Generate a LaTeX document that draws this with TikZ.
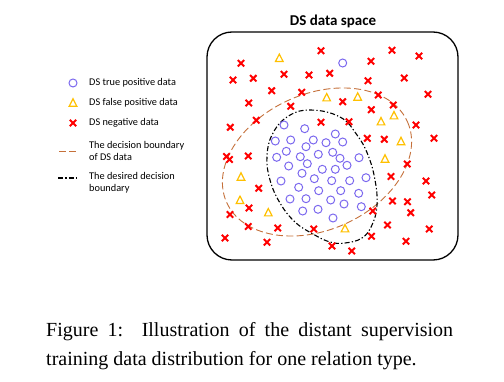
\documentclass[tikz,border=0pt]{standalone}
\usepackage{fontspec}
\setmainfont{Liberation Serif}
\newfontfamily\calibri{Carlito}
\definecolor{tpblue}{HTML}{7B68EE}
\definecolor{fpgold}{HTML}{FFC000}
\definecolor{negred}{HTML}{FF0000}
\definecolor{dsorange}{HTML}{C5703A}
% one marker per kind of data point
\newcommand{\TPMark}[2]{\draw[truepos] (#1,#2) circle (4);}
\newcommand{\FPMark}[2]{\draw[falsepos] (#1,#2) ++(0,-4.2) -- ++(3.8,7.4) -- ++(-7.6,0) -- cycle;}
\newcommand{\NegMark}[2]{\draw[negative] (#1-3.2,#2-3.2) -- (#1+3.2,#2+3.2) (#1-3.2,#2+3.2) -- (#1+3.2,#2-3.2);}

\begin{document}
\begin{tikzpicture}[x=1pt, y=-1pt,
    truepos/.style={draw=tpblue, line width=1pt},
    falsepos/.style={draw=fpgold, line width=1.2pt, line join=miter},
    negative/.style={draw=negred, line width=2pt},
    dsbound/.style={dsorange, line width=0.9pt, dash pattern=on 7pt off 3.3pt},
    wantbound/.style={black, line width=1.1pt, dash pattern=on 5pt off 2.2pt on 1.3pt off 2.2pt},
    legendtext/.style={font=\calibri\fontsize{10.3}{12}\selectfont, anchor=west, align=left, inner sep=0pt},
  ]
\useasboundingbox (0,0) rectangle (504,382);

% --- The data space ------------------------------------------------------------
\draw[line width=1.3pt, rounded corners=25pt] (207,32) rectangle (458,260);
\node[font=\calibri\bfseries\fontsize{15}{18}\selectfont] (title) at (333,21) {DS data space};

% --- The two boundaries (drawn first, the points lie on top) ---------------------
\draw[dsbound, rotate around={24:(317,162)}] (317,162) ellipse (99 and 68);
\draw[wantbound] plot[smooth cycle, tension=0.7] coordinates {
  (310,110) (340,117) (357,135) (368,155) (375,180) (377,205) (372,225) (362,238)
  (345,243) (330,242) (313,234) (295,222) (280,203) (270,180) (267,157) (272,135) (287,117)};

% --- Negative data --------------------------------------------------------------
\foreach \x/\y in {321/50.7, 241/63.3, 233/80, 253.3/78.3, 284/74.3, 309/75, 329.7/73.3,
    271.7/90.7, 301.7/92.3, 248.7/103, 290.7/106.3, 256.3/120.3, 230.3/127.3, 321/122.3,
    392/50.3, 371/61.3, 419/56, 368/80.7, 404.3/78, 428/94.3, 378.3/95, 342.7/101.7,
    393.3/105, 371.3/109.7, 416/125, 349/121.7, 367.3/138.3, 384.3/139.3, 434/138.3,
    226.5/156.5, 229.5/159.5, 248.3/156, 407.3/164, 391/176.5, 426/181, 258.7/188.3,
    431.7/195, 249/208, 392.5/201, 407.5/201.7, 230/214.5, 372.7/211, 410.7/212.7,
    248.3/226.5, 277.7/228, 313.7/229, 387.5/225, 429.3/229, 225/238, 371.5/236.3,
    267/242.3, 406/241.2, 332/246, 351.7/251}
  {\NegMark{\x}{\y}}

% --- False positives --------------------------------------------------------------
\foreach \x/\y in {279.3/58.3, 326.7/97.7, 357.7/97, 381/121.7, 394/115.7, 401/141.5,
    385/159, 241/177, 240/200.3, 268.3/212.7, 345/228.7}
  {\FPMark{\x}{\y}}

% --- True positives ----------------------------------------------------------------
\foreach \x/\y in {342.7/63, 284/125, 304.7/128.7, 335.3/134, 275.3/141, 290.7/140,
    313.3/140, 326/142.7, 342.7/142, 306/146.7, 286.3/151.3, 332.7/152.3, 276.7/157.3,
    300.3/156.7, 318.3/154.3, 340/158.3, 359/157.7, 307.3/163.7, 347/165.3, 288.7/166,
    322.3/169.3, 335.3/169.3, 302/173.3, 314.3/178.7, 331.7/180.7, 349.7/180.7,
    366/177.7, 281/181, 298.7/187.3, 318.7/190.7, 340.7/190.7, 358.7/193.3, 290/199,
    306/198.7, 330.7/200, 344/204, 361.3/206.7, 302.7/211, 318/209.3, 333/218}
  {\TPMark{\x}{\y}}

% --- Legend --------------------------------------------------------------------------
\TPMark{73}{83}
\FPMark{73}{103}
\NegMark{73}{123}
\draw[dsbound] (59,151) -- (78,151);
\draw[wantbound] (58,178) -- (78,178);
\node[legendtext] (tplabel) at (89,83) {DS true positive data};
\node[legendtext] (fplabel) at (89,103) {DS false positive data};
\node[legendtext] (neglabel) at (89,123) {DS negative data};
\node[legendtext] (dslabel) at (89,150.5) {The decision boundary\\of DS data};
\node[legendtext] (wantlabel) at (89,182.5) {The desired decision\\boundary};

% --- Caption ---------------------------------------------------------------------------
\node[font=\fontsize{20}{29.5}\selectfont, text width=407pt, align=justify, inner sep=0pt,
    anchor=north west] (caption) at (46,322)
  {Figure 1:\ \ Illustration of the distant supervision\linebreak
   training data distribution for one relation type.};
\end{tikzpicture}
\end{document}
